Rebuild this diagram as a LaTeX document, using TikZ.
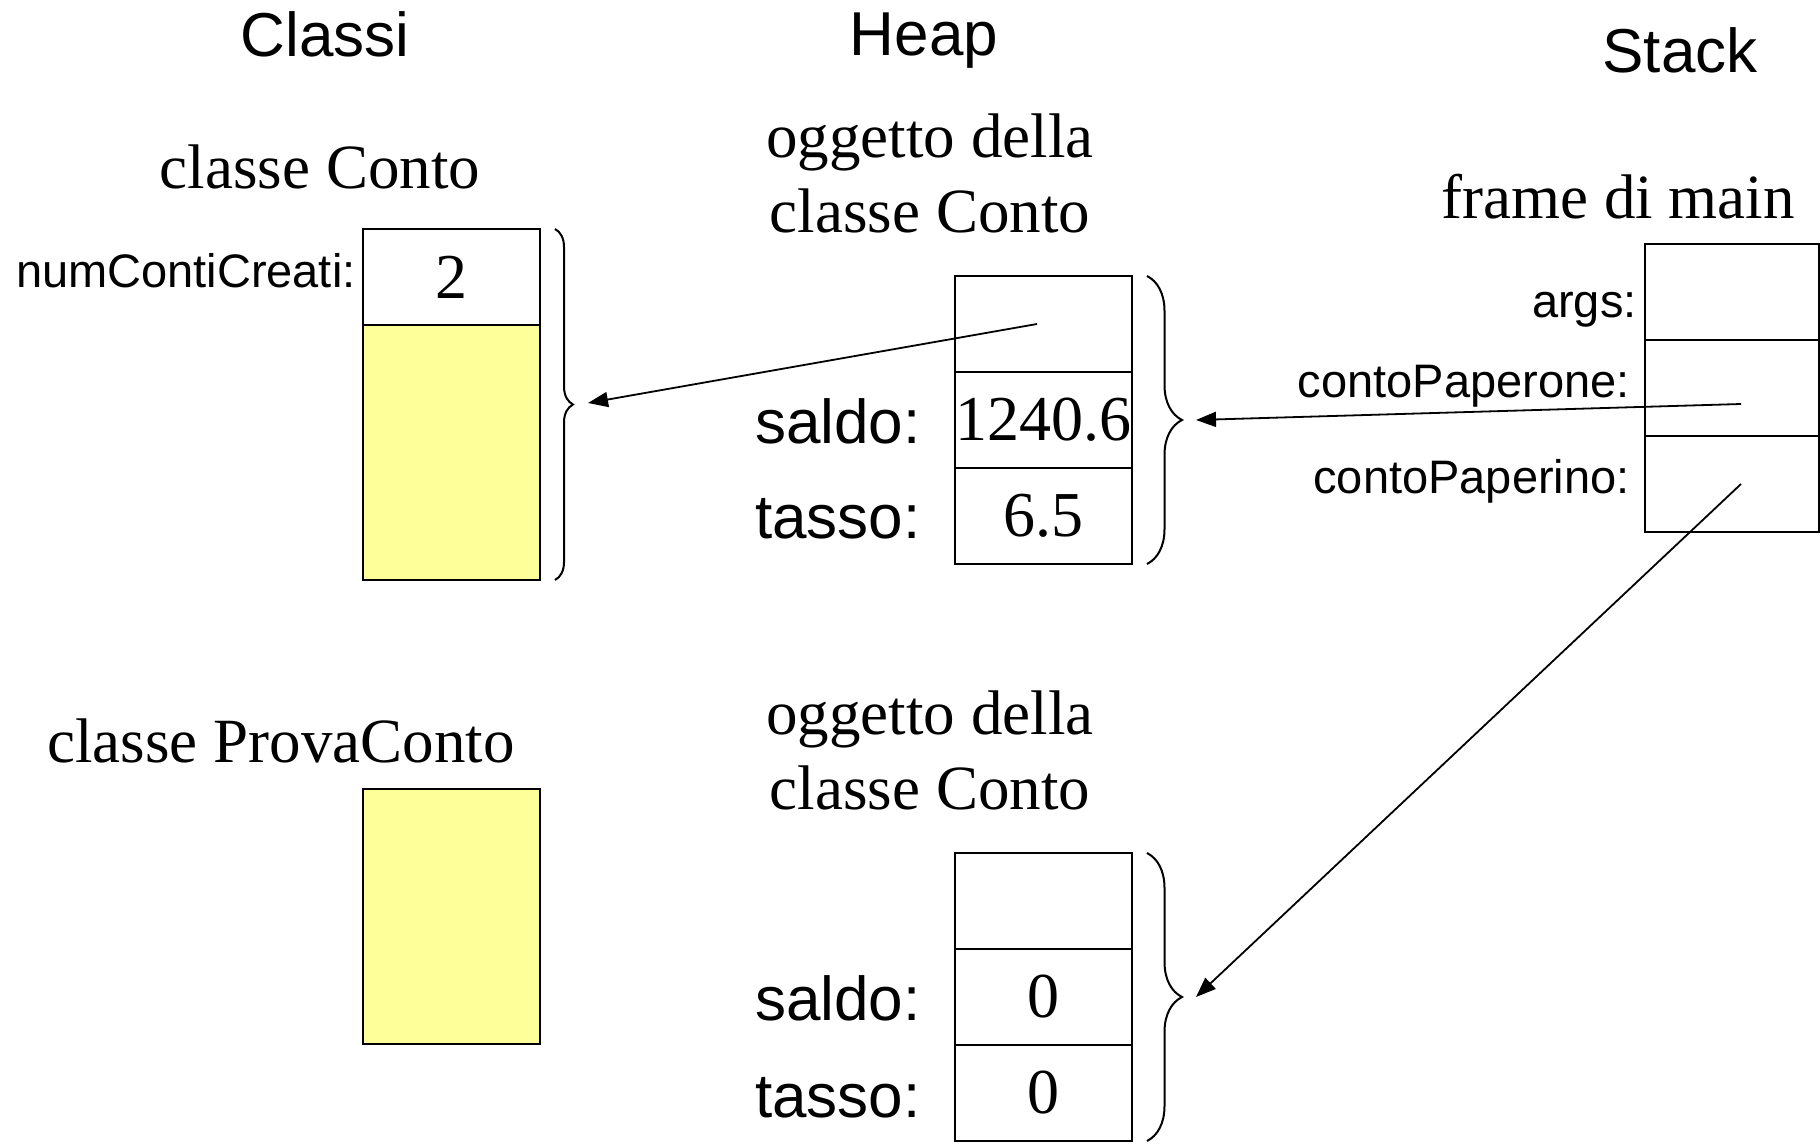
\documentclass[tikz,border=0pt]{standalone}
\usepackage{fontspec}
\setmainfont{Liberation Serif}
\setsansfont{Liberation Sans}
\usetikzlibrary{arrows.meta,decorations.pathreplacing}
\definecolor{cyellow}{HTML}{FFFF99}

\begin{document}
\begin{tikzpicture}[x=0.5pt,y=-0.5pt,
  cell/.style={draw,line width=1.1pt,minimum width=88.5pt,minimum height=48pt,
    inner sep=0pt,font=\fontsize{32}{36}\selectfont},
  area/.style={cell,fill=cyellow,minimum height=127.5pt},
  title/.style={font=\sffamily\fontsize{31}{34}\selectfont,anchor=base,inner sep=0pt},
  caption/.style={font=\fontsize{31.5}{36}\selectfont,anchor=base,inner sep=0pt},
  field/.style={font=\sffamily\fontsize{31}{36}\selectfont,anchor=base east,inner sep=0pt},
  var/.style={font=\sffamily\fontsize{23.5}{28}\selectfont,anchor=base east,inner sep=0pt},
  ptr/.style={-{Triangle[length=10pt,width=7.5pt]},line width=0.9pt},
  brc/.style={decorate,decoration={brace,amplitude=#1},line width=1pt}]
  \useasboundingbox (0,0) rectangle (1820,1145);
  % column titles
  \node[title] (tclassi) at (325,57) {Classi};
  \node[title] (theap) at (924,56) {Heap};
  \node[title] (tstack) at (1680,73) {Stack};
  % classes
  \node[caption] (kconto) at (320,188) {classe Conto};
  \node[cell] (cnum) at (451.5,277) {2};
  \node[area] (cbody) at (451.5,452.5) {};
  \node[var] (lnum) at (356,287) {numContiCreati:};
  \draw[brc=9pt] (555,229) -- (555,580);
  \coordinate (ctip) at (588,403);
  \node[caption] (kprova) at (281,762) {classe ProvaConto};
  \node[area] (pbody) at (451.5,916.5) {};
  % heap objects
  \node[caption] (o1capA) at (930,157) {oggetto della};
  \node[caption] (o1capB) at (930,232) {classe Conto};
  \node[cell] (o1ref) at (1043.5,324) {};
  \node[cell] (o1saldo) at (1043.5,420) {1240.6};
  \node[cell] (o1tasso) at (1043.5,516) {6.5};
  \node[field] (l1saldo) at (921,443) {saldo:};
  \node[field] (l1tasso) at (921,538) {tasso:};
  \draw[brc=17.5pt] (1147,276) -- (1147,564);
  \coordinate (o1tip) at (1196,420);
  \node[caption] (o2capA) at (930,734) {oggetto della};
  \node[caption] (o2capB) at (930,809) {classe Conto};
  \node[cell] (o2ref) at (1043.5,901) {};
  \node[cell] (o2saldo) at (1043.5,997) {0};
  \node[cell] (o2tasso) at (1043.5,1093) {0};
  \node[field] (l2saldo) at (921,1020) {saldo:};
  \node[field] (l2tasso) at (921,1117) {tasso:};
  \draw[brc=17.5pt] (1147,853) -- (1147,1141);
  \coordinate (o2tip) at (1196,997);
  % stack frame
  \node[caption] (kframe) at (1618,218) {frame di main};
  \node[cell,minimum width=87pt] (sargs) at (1732,292) {};
  \node[cell,minimum width=87pt] (spone) at (1732,388) {};
  \node[cell,minimum width=87pt] (spino) at (1732,484) {};
  \node[var] (largs) at (1637,317) {args:};
  \node[var] (lpone) at (1630,397) {contoPaperone:};
  \node[var] (lpino) at (1630,493) {contoPaperino:};
  % references
  \draw[ptr] ([xshift=-3.25pt]o1ref.center) -- (ctip);
  \draw[ptr] ([xshift=4.5pt,yshift=-8pt]spone.center) -- (o1tip);
  \draw[ptr] ([xshift=4.5pt]spino.center) -- (o2tip);
\end{tikzpicture}
\end{document}
